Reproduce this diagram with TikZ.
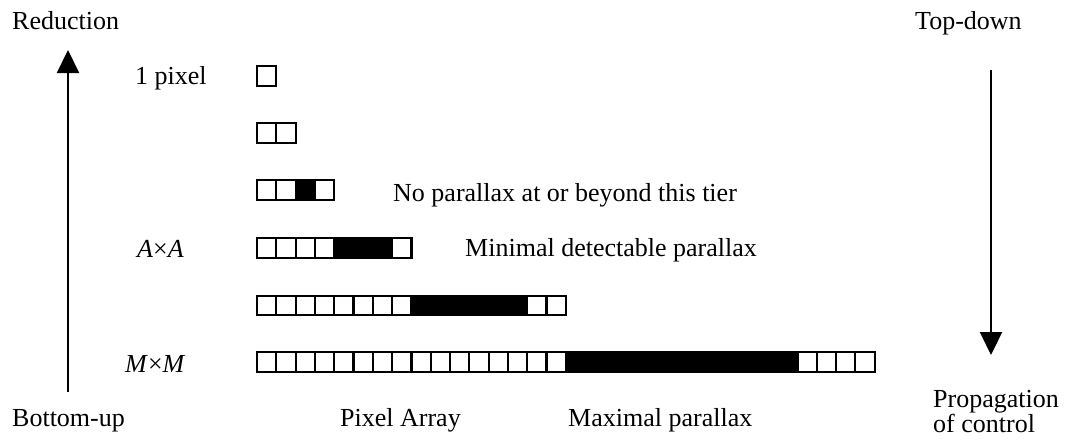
\documentclass[tikz,border=0pt]{standalone}
\usepackage{fontspec}
\setmainfont{Liberation Serif}
\usetikzlibrary{arrows.meta}
\begin{document}
\begin{tikzpicture}[x=1pt,y=-1pt,
  cell/.style={draw,line width=2.2pt,minimum width=19.3pt,minimum height=19.5pt,inner sep=0pt,outer sep=0pt},
  lbl/.style={inner sep=0pt,font=\fontsize{26}{30}\selectfont,anchor=base west},
  dirarrow/.style={line width=2.2pt,-{Triangle[width=22pt,length=23pt]}}]
\useasboundingbox (0,0) rectangle (1067,442);
% pixel tiers
\foreach \r/\y/\n/\a/\b in {1/76/1/0/0, 2/133/2/0/0, 3/190/4/3/3, 4/248/8/5/7, 5/305.5/16/9/14, 6/362/32/17/28} {
  \foreach \i in {1,...,\n} {
    \ifnum\i<\a \def\fc{white}\else\ifnum\i>\b \def\fc{white}\else\def\fc{black}\fi\fi
    \node[cell,fill=\fc] (c\r-\i) at ({257+19.3*(\i-0.5)},\y) {};
  }
}
% labels
\node[lbl] (red) at (12,29) {Reduction};
\node[lbl] (top) at (915,29) {Top-down};
\node[lbl] (one) at (135,84) {1 pixel};
\node[lbl] (aa) at (137,257) {\textit{A}×\textit{A}};
\node[lbl] (mm) at (125,372) {\textit{M}×\textit{M}};
\node[lbl] (nop) at (393,201) {No parallax at or beyond this tier};
\node[lbl] (mindp) at (465,256) {Minimal detectable parallax};
\node[lbl] (bot) at (12,426) {Bottom-up};
\node[lbl] (pix) at (340,426) {Pixel Array};
\node[lbl] (maxp) at (568,426) {Maximal parallax};
\node[lbl] (prop) at (933,407) {Propagation};
\node[lbl] (ofc) at (933,432) {of control};
% arrows
\coordinate (lb) at (68,392);
\coordinate (lt) at (68,50);
\coordinate (rt) at (991,70);
\coordinate (rb) at (991,355);
\draw[dirarrow] (lb) -- (lt);
\draw[dirarrow] (rt) -- (rb);
\end{tikzpicture}
\end{document}
